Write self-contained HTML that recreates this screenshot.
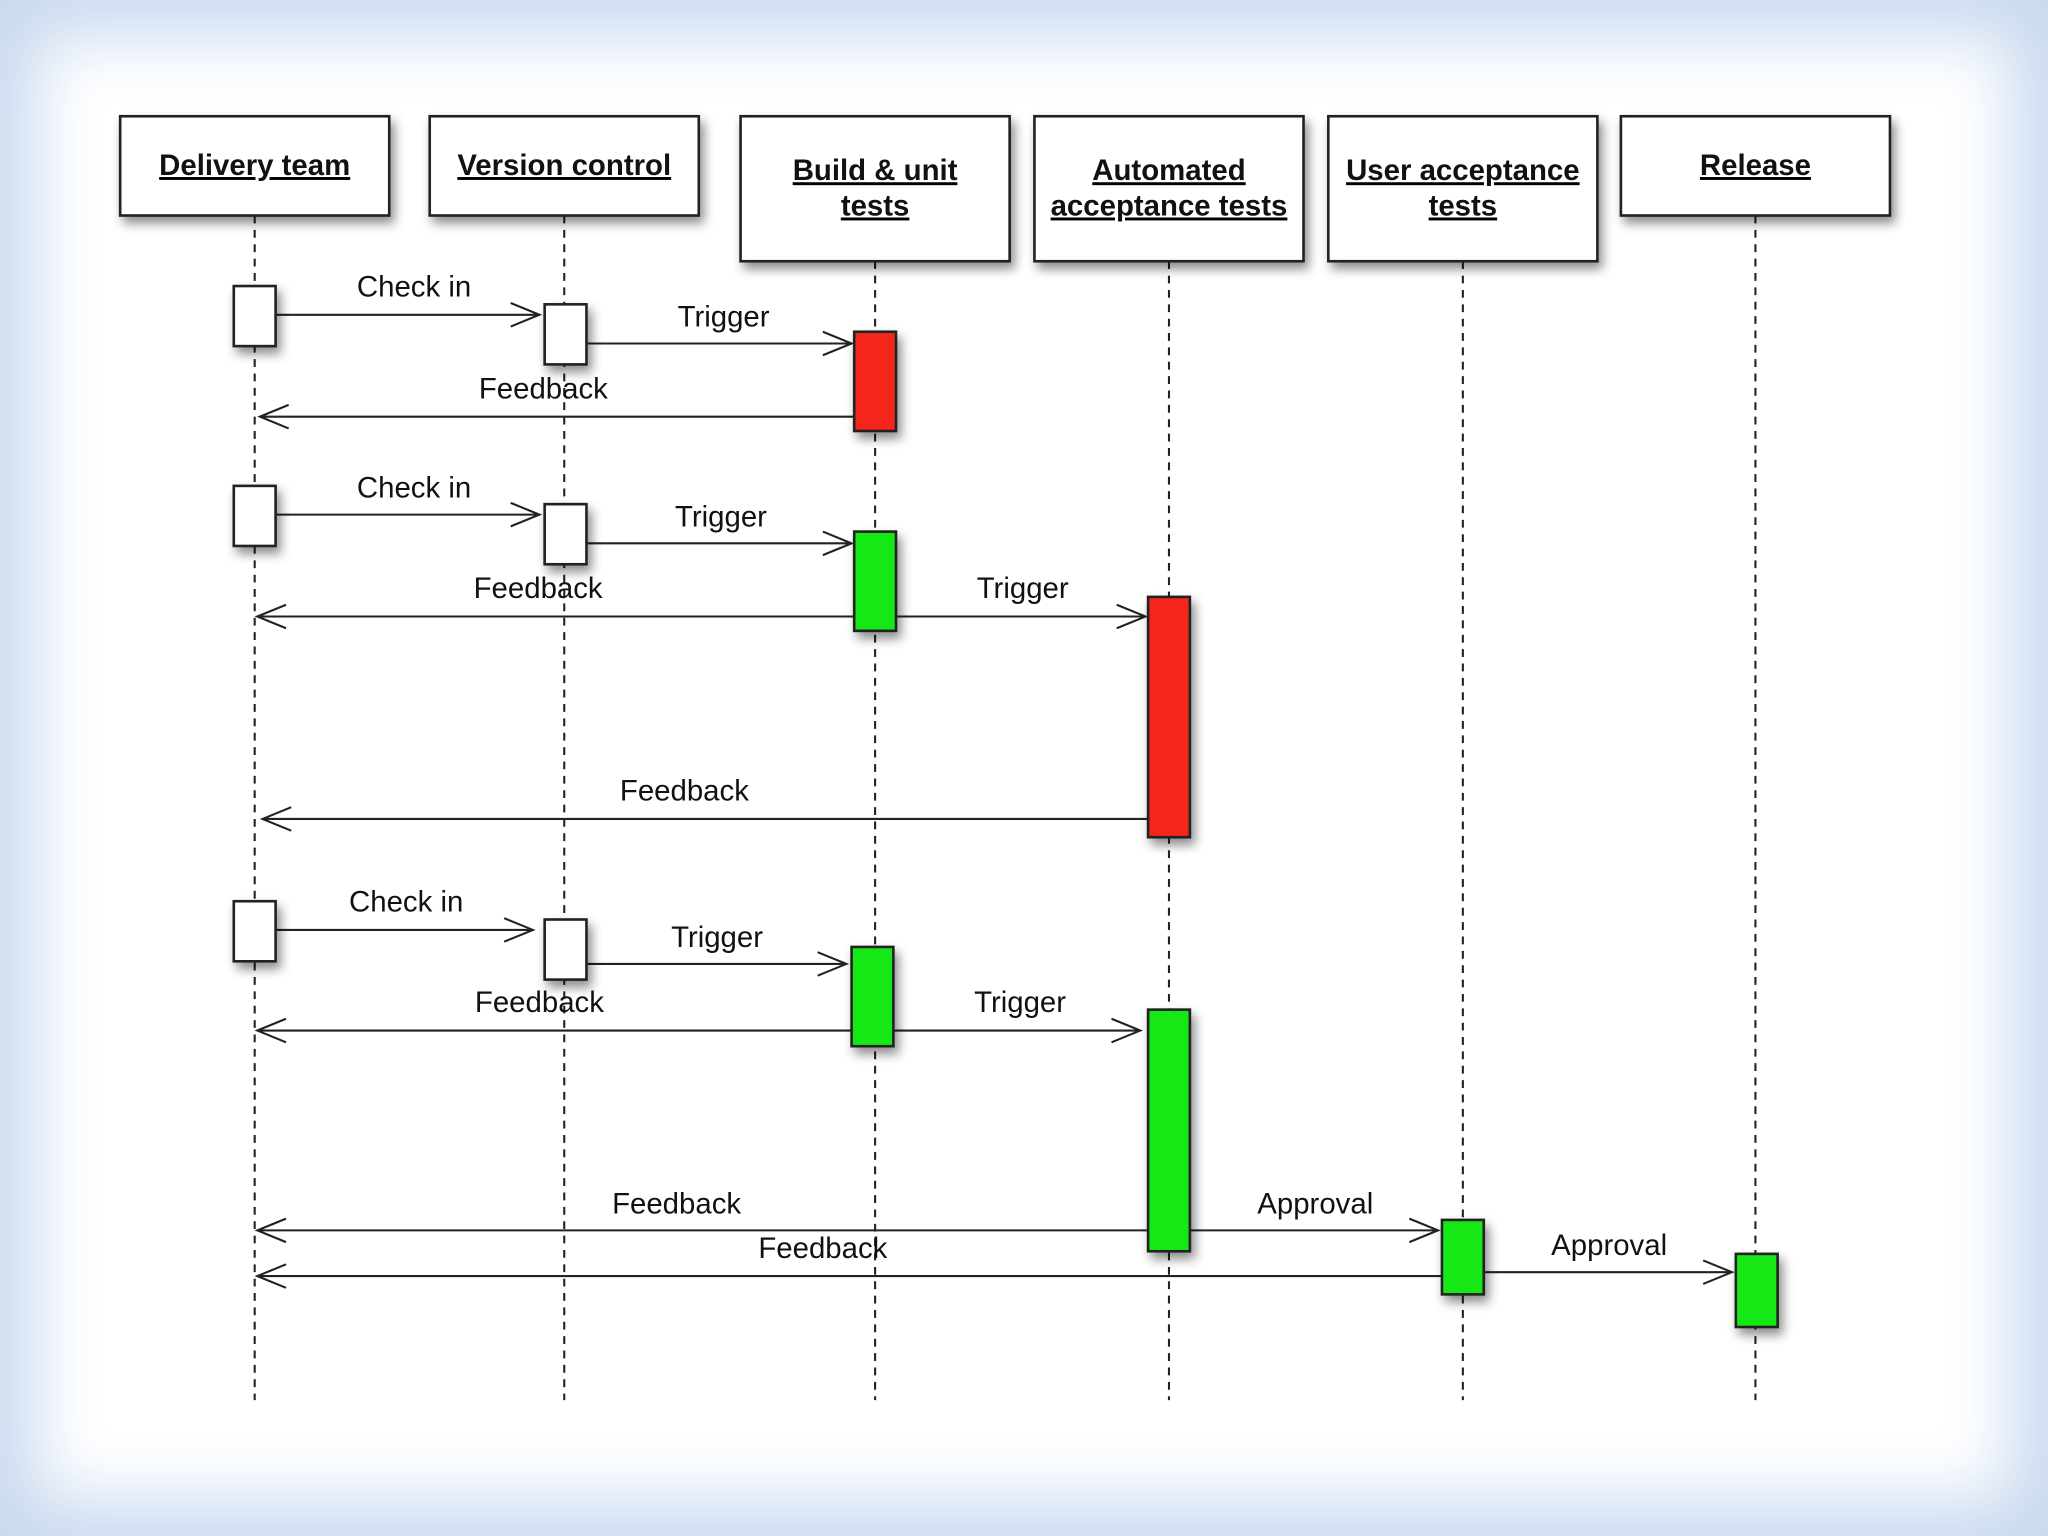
<!DOCTYPE html>
<html><head><meta charset="utf-8"><style>
html,body{margin:0;padding:0;width:2048px;height:1536px;overflow:hidden;background:#fff}
.bg{position:absolute;left:0;top:0;width:2048px;height:1536px;background:#fff;box-shadow:inset 0 0 70px 35px #c9d9ef}
svg{position:absolute;left:0;top:0}
text{font-family:"Liberation Sans",Arial,sans-serif;fill:#111}
</style></head><body>
<div class="bg"></div>
<svg width="2048" height="1536" viewBox="0 0 1568 1176">
<defs>
<filter id="sh" x="-10%" y="-10%" width="130%" height="140%"><feDropShadow dx="3" dy="5" stdDeviation="4" flood-color="#000" flood-opacity="0.45"/></filter>
</defs>
<g stroke="#222" stroke-width="1.6" stroke-dasharray="6,5">
<line x1="195" y1="165" x2="195" y2="1072"/>
<line x1="432" y1="165" x2="432" y2="1072"/>
<line x1="670" y1="200" x2="670" y2="1072"/>
<line x1="895" y1="200" x2="895" y2="1072"/>
<line x1="1120" y1="200" x2="1120" y2="1072"/>
<line x1="1344" y1="165" x2="1344" y2="1072"/>
</g>
<g fill="#fff" stroke="#222" stroke-width="2" filter="url(#sh)">
<rect x="92" y="89" width="206" height="76"/>
<rect x="329" y="89" width="206" height="76"/>
<rect x="567" y="89" width="206" height="111"/>
<rect x="792" y="89" width="206" height="111"/>
<rect x="1017" y="89" width="206" height="111"/>
<rect x="1241" y="89" width="206" height="76"/>
</g>
<g font-size="22.5" font-weight="bold" text-anchor="middle" text-decoration="underline">
<text x="195" y="134">Delivery team</text>
<text x="432" y="134">Version control</text>
<text x="670" y="138">Build &amp; unit</text><text x="670" y="165">tests</text>
<text x="895" y="138">Automated</text><text x="895" y="165">acceptance tests</text>
<text x="1120" y="138">User acceptance</text><text x="1120" y="165">tests</text>
<text x="1344" y="134">Release</text>
</g>
<g stroke="#222" stroke-width="1.6" fill="none">
<path d="M211 241H413M391 232L413 241L391 250"/>
<path d="M449 263H652M630 254L652 263L630 272"/>
<path d="M211 394H413M391 385L413 394L391 403"/>
<path d="M449 416H652M630 407L652 416L630 425"/>
<path d="M686 472H877M855 463L877 472L855 481"/>
<path d="M211 712H408M386 703L408 712L386 721"/>
<path d="M449 738H648M626 729L648 738L626 747"/>
<path d="M684 789H873M851 780L873 789L851 798"/>
<path d="M911 942H1101M1079 933L1101 942L1079 951"/>
<path d="M1136 974H1326M1304 965L1326 974L1304 983"/>
<path d="M654 319H199M221 310L199 319L221 328"/>
<path d="M654 472H197M219 463L197 472L219 481"/>
<path d="M879 627H201M223 618L201 627L223 636"/>
<path d="M652 789H197M219 780L197 789L219 798"/>
<path d="M879 942H197M219 933L197 942L219 951"/>
<path d="M1104 977H197M219 968L197 977L219 986"/>
</g>
<g stroke="#222" stroke-width="2" filter="url(#sh)">
<rect x="179" y="219" width="32" height="46" fill="#fff"/>
<rect x="417" y="233" width="32" height="46" fill="#fff"/>
<rect x="654" y="254" width="32" height="76" fill="#f4281c"/>
<rect x="179" y="372" width="32" height="46" fill="#fff"/>
<rect x="417" y="386" width="32" height="46" fill="#fff"/>
<rect x="654" y="407" width="32" height="76" fill="#12e818"/>
<rect x="879" y="457" width="32" height="184" fill="#f4281c"/>
<rect x="179" y="690" width="32" height="46" fill="#fff"/>
<rect x="417" y="704" width="32" height="46" fill="#fff"/>
<rect x="652" y="725" width="32" height="76" fill="#12e818"/>
<rect x="879" y="773" width="32" height="185" fill="#12e818"/>
<rect x="1104" y="934" width="32" height="57" fill="#12e818"/>
<rect x="1329" y="960" width="32" height="56" fill="#12e818"/>
</g>
<g font-size="22.5" text-anchor="middle">
<text x="317" y="227">Check in</text>
<text x="554" y="250">Trigger</text>
<text x="416" y="305">Feedback</text>
<text x="317" y="381">Check in</text>
<text x="552" y="403">Trigger</text>
<text x="412" y="458">Feedback</text>
<text x="783" y="458">Trigger</text>
<text x="524" y="613">Feedback</text>
<text x="311" y="698">Check in</text>
<text x="549" y="725">Trigger</text>
<text x="413" y="775">Feedback</text>
<text x="781" y="775">Trigger</text>
<text x="518" y="929">Feedback</text>
<text x="1007" y="929">Approval</text>
<text x="630" y="963">Feedback</text>
<text x="1232" y="961">Approval</text>
</g>
</svg>
</body></html>
